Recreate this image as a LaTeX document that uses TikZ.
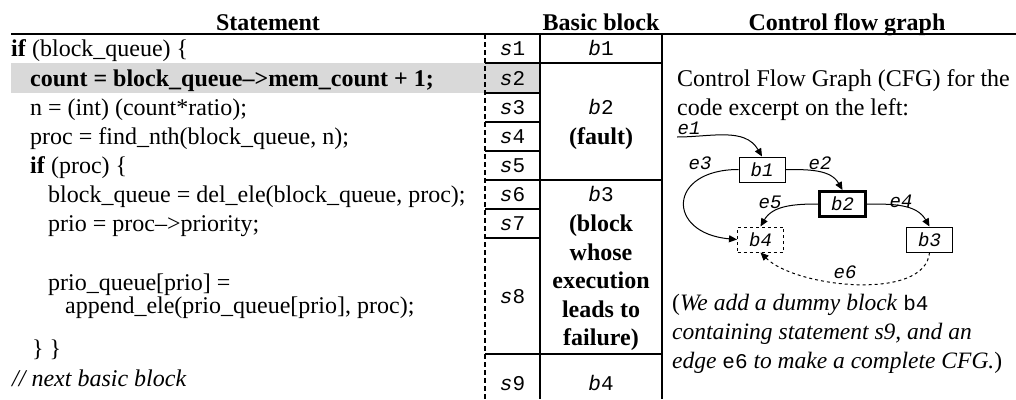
\documentclass[tikz,border=0pt]{standalone}
\usepackage{fontspec}
\setmainfont{Liberation Serif}
\newfontfamily\cour{Liberation Mono}
\usetikzlibrary{arrows.meta}
\newcommand\fnt{\fontsize{24}{28}\selectfont}
\newcommand\capfnt{\fontsize{23.5}{28}\selectfont}
\newcommand\mfnt{\cour\fontsize{21}{21}\selectfont}
\newcommand\gfnt{\cour\itshape\fontsize{19}{19}\selectfont}
\newcommand\slab[2]{{\mfnt\textit{#1}#2}}
\tikzset{
  txt/.style={anchor=base west, inner sep=0pt, font=\fnt},
  captxt/.style={anchor=base west, inner sep=0pt, font=\capfnt},
  ctr/.style={anchor=base, inner sep=0pt, font=\fnt},
  hdr/.style={anchor=base, inner sep=0pt, font=\fnt\bfseries},
  grid/.style={line width=2pt},
  blk/.style={draw, line width=1pt, minimum width=46pt, minimum height=25pt, inner sep=0pt, font=\gfnt},
  arr/.style={line width=1pt, -{Triangle[length=8pt,width=7pt]}},
  elab/.style={inner sep=0pt, font=\gfnt},
}
\begin{document}
\begin{tikzpicture}[x=1pt,y=-1pt]
\useasboundingbox (0,0) rectangle (1016,399);
% highlight
\fill[gray!30] (11,63) rectangle (540,93);
% header
\node[hdr] (hs) at (268,30) {Statement};
\node[hdr] (hb) at (601,30) {Basic block};
\node[hdr] (hc) at (847,30) {Control flow graph};
\draw[line width=2.5pt] (11,34) -- (1016,34);
% table grid
\draw[line width=1.5pt, dash pattern=on 5pt off 3pt] (485,34) -- (485,399);
\draw[grid] (540,34) -- (540,399);
\draw[grid] (662,34) -- (662,399);
\foreach \yy in {63,180,354} \draw[grid] (485,\yy) -- (662,\yy);
\foreach \yy in {93,122,151,209,238} \draw[grid] (485,\yy) -- (540,\yy);
% statements
\node[txt] (l1) at (11,56.5) {\textbf{if} (block\_queue) \{};
\node[txt] (l2) at (30,86) {\textbf{count = block\_queue\textendash{}>mem\_count + 1;}};
\node[txt] (l3) at (30,115.5) {n = (int) (count*ratio);};
\node[txt] (l4) at (30,144.5) {proc = find\_nth(block\_queue, n);};
\node[txt] (l5) at (30,173.5) {\textbf{if} (proc) \{};
\node[txt] (l6) at (48,202.5) {block\_queue = del\_ele(block\_queue, proc);};
\node[txt] (l7) at (48,231.5) {prio = proc\textendash{}>priority;};
\node[txt] (l8) at (48,290) {prio\_queue[prio] =};
\node[txt] (l9) at (65,313) {append\_ele(prio\_queue[prio], proc);};
\node[txt] (l10) at (32,356) {\} \}};
\node[txt] (l11) at (12,386) {\textit{// next basic block}};
% s labels
\node[ctr] (s1) at (512.5,55.5) {\slab{s}{1}};
\node[ctr] (s2) at (512.5,85) {\slab{s}{2}};
\node[ctr] (s3) at (512.5,114.5) {\slab{s}{3}};
\node[ctr] (s4) at (512.5,143.5) {\slab{s}{4}};
\node[ctr] (s5) at (512.5,172.5) {\slab{s}{5}};
\node[ctr] (s6) at (512.5,201.5) {\slab{s}{6}};
\node[ctr] (s7) at (512.5,230.5) {\slab{s}{7}};
\node[ctr] (s8) at (512.5,303) {\slab{s}{8}};
\node[ctr] (s9) at (512.5,390) {\slab{s}{9}};
% basic blocks
\node[ctr] (b1t) at (601,55.5) {\slab{b}{1}};
\node[ctr] (b2t) at (601,114.5) {\slab{b}{2}};
\node[ctr] (b2f) at (601,144) {\textbf{(fault)}};
\node[ctr] (b3t) at (601,201.5) {\slab{b}{3}};
\node[ctr] (b3a) at (601,231) {\textbf{(block}};
\node[ctr] (b3b) at (601,260) {\textbf{whose}};
\node[ctr] (b3c) at (601,288) {\textbf{execution}};
\node[ctr] (b3d) at (601,317) {\textbf{leads to}};
\node[ctr] (b3e) at (601,345) {\textbf{failure)}};
\node[ctr] (b4t) at (601,390) {\slab{b}{4}};
% CFG description
\node[txt] (c1) at (677,86) {Control Flow Graph (CFG) for the};
\node[txt] (c2) at (677,115.5) {code excerpt on the left:};
\node[captxt] (n1) at (672,310) {(\textit{We add a dummy block }{\mfnt b4}};
\node[captxt] (n2) at (672,339) {\textit{containing statement s9, and an}};
\node[captxt] (n3) at (672,368) {\textit{edge }{\mfnt e6}\textit{ to make a complete CFG.})};
% CFG graph
\node[blk] (b1) at (762,169.5) {b1};
\node[blk, line width=3pt] (b2) at (842.5,204) {b2};
\node[blk, dashed] (b4) at (760.5,239.5) {b4};
\node[blk] (b3) at (929.5,239.5) {b3};
\coordinate (e1s) at (677,137);
\draw[arr] (e1s) to[out=0,in=120] (b1.north);
\draw[arr] (b1.east) to[out=0,in=120] (b2.north);
\draw[arr] (b1.west) to[out=180,in=175,looseness=2.6] (b4.west);
\draw[arr] (b2.west) to[out=180,in=60] (b4.north);
\draw[arr] (b2.east) to[out=0,in=120] (b3.north);
\draw[arr, dashed] (b3.south) to[out=-95,in=-45,looseness=0.75] (b4.south);
\node[elab] (le1) at (689,128) {e1};
\node[elab] (le2) at (820,163) {e2};
\node[elab] (le3) at (700,163) {e3};
\node[elab] (le5) at (770,202) {e5};
\node[elab] (le4) at (901,201) {e4};
\node[elab] (le6) at (845,272) {e6};
\end{tikzpicture}
\end{document}
